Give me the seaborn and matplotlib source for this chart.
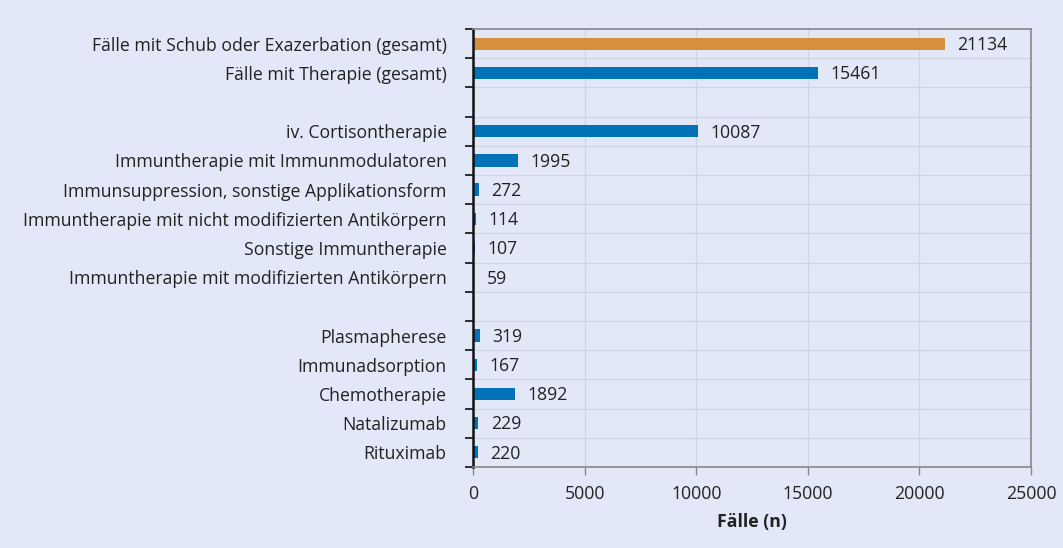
import matplotlib
matplotlib.use("Agg")
import matplotlib.pyplot as plt
import seaborn as sns
import numpy as np
import pandas as pd

kategorien = [
    "Fälle mit Schub oder Exazerbation (gesamt)",
    "Fälle mit Therapie (gesamt)",
    " ",
    "iv. Cortisontherapie",
    "Immuntherapie mit Immunmodulatoren",
    "Immunsuppression, sonstige Applikationsform",
    "Immuntherapie mit nicht modifizierten Antikörpern",
    "Sonstige Immuntherapie",
    "Immuntherapie mit modifizierten Antikörpern",
    "  ",
    "Plasmapherese",
    "Immunadsorption",
    "Chemotherapie",
    "Natalizumab",
    "Rituximab",
]
faelle = [21134, 15461, np.nan, 10087, 1995, 272, 114, 107, 59, np.nan,
          319, 167, 1892, 229, 220]
farben = ["#d4903a"] + ["#0072b8"] * 14

bg = "#e2e8f7"
sns.set_theme(style="white")
plt.rcParams["font.family"] = ["Open Sans", "DejaVu Sans"]
fs = 12.7

df = pd.DataFrame({"Kategorie": kategorien, "Fälle": faelle})

fig = plt.figure(figsize=(10.63, 5.48), dpi=100, facecolor=bg)
ax = fig.add_axes([0.445, 0.148, 0.525, 0.799])
ax.set_facecolor(bg)

sns.barplot(data=df, y="Kategorie", x="Fälle", hue="Kategorie",
            palette=farben, legend=False, width=0.42, ax=ax, orient="h",
            saturation=1, linewidth=0)

for i, v in enumerate(faelle):
    if not np.isnan(v):
        ax.annotate(f"{int(v)}", (v, i), xytext=(9, -1), textcoords="offset points",
                    va="center", ha="left", fontsize=fs, color="#222222")

ax.set_xlim(0, 25000)
ax.set_ylim(len(kategorien) - 0.5, -0.5)
ax.set_xticks(range(0, 25001, 5000))
ax.set_yticks(range(len(kategorien)))
ax.set_yticklabels(kategorien, fontsize=fs, color="#222222")
ax.set_yticks(np.arange(-0.5, len(kategorien), 1), minor=True)
ax.tick_params(axis="y", which="major", length=0, pad=19)
ax.tick_params(axis="y", which="minor", length=6, width=1.2, color="#111111", left=True)
ax.tick_params(axis="x", length=6, width=1, color="#888888", bottom=True,
               labelsize=fs, labelcolor="#222222", pad=7)
ax.grid(axis="x", color="#cdd3e2", linewidth=0.8)
ax.grid(axis="y", which="minor", color="#cdd3e2", linewidth=0.8)
ax.set_axisbelow(True)

for s in ["top", "right", "bottom"]:
    ax.spines[s].set_color("#888888")
    ax.spines[s].set_linewidth(1.2)
ax.spines["left"].set_color("#111111")
ax.spines["left"].set_linewidth(1.8)

ax.set_ylabel("")
ax.set_xlabel("Fälle (n)", fontsize=fs, fontweight="bold", color="#222222", labelpad=7)

fig.savefig("out.png", dpi=100, facecolor=bg)
